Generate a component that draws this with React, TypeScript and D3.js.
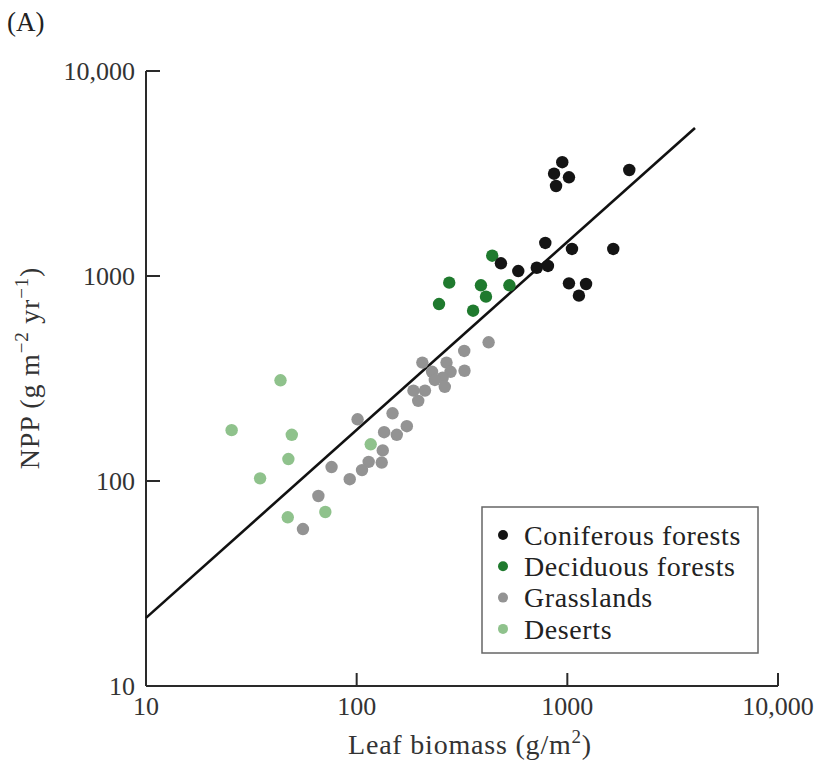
import React, { useEffect, useRef } from 'react';
import * as d3 from 'd3';

// leaf biomass (g/m2) and NPP (g m-2 yr-1)
const coniferousX = [946, 865, 1018, 884, 1968, 786, 484, 585, 716, 809, 1052, 1652, 1018, 1227, 1135];
const coniferousY = [3589, 3155, 3030, 2748, 3289, 1449, 1153, 1057, 1097, 1119, 1355, 1355, 921, 914, 802];

const deciduousX = [440, 275, 389, 531, 411, 246, 357];
const deciduousY = [1256, 928, 901, 901, 793, 730, 677];

const grasslandX = [423, 324, 205, 267, 228, 279, 325, 256, 235, 262, 186, 211, 196, 148, 101, 173, 135, 155, 133, 131.5, 114, 106, 76, 92.7, 65.8, 55.6];
const grasslandY = [475, 431, 378, 378, 341, 341, 345, 319, 311, 288, 276, 276, 246, 214, 200, 185, 173, 168, 141, 123, 124, 113, 117, 102, 84.5, 58.3];

const desertX = [43.5, 25.5, 49.2, 47.4, 116.6, 34.8, 47.1, 71];
const desertY = [310, 177, 168, 128, 151, 103, 66.5, 70.6];

const fitX = [10, 4036];
const fitY = [21.5, 5272];

const tickValues = [10, 100, 1000, 10000];
const tickLabels = ['10', '100', '1000', '10,000'];

const seriesNames = ['Coniferous forests', 'Deciduous forests', 'Grasslands', 'Deserts'];
const seriesColors = ['#141414', '#1f7a2e', '#939393', '#8fc28c'];

const FONT = '"Liberation Serif", "Times New Roman", serif';

export default function App() {
  const svgRef = useRef<SVGSVGElement>(null);
  const width = 825;
  const height = 762;

  useEffect(() => {
    if (!svgRef.current) return;
    const svg = d3.select(svgRef.current);
    svg.selectAll('*').remove();

    const x = d3.scaleLog().domain([10, 10000]).range([146, 778]);
    const y = d3.scaleLog().domain([10, 10000]).range([686, 71]);

    // panel label
    svg
      .append('text')
      .attr('x', 7)
      .attr('y', 31)
      .attr('font-family', FONT)
      .attr('font-size', 27)
      .attr('fill', '#222')
      .text('(A)');

    // axes
    const axisColor = '#2a2a2a';
    svg
      .append('line')
      .attr('x1', x(10))
      .attr('x2', x(10))
      .attr('y1', y(10000))
      .attr('y2', y(10))
      .attr('stroke', axisColor)
      .attr('stroke-width', 2);
    svg
      .append('line')
      .attr('x1', x(10))
      .attr('x2', x(10000))
      .attr('y1', y(10))
      .attr('y2', y(10))
      .attr('stroke', axisColor)
      .attr('stroke-width', 2);

    // y ticks (inward)
    tickValues.forEach((v, i) => {
      if (v > 10) {
        svg
          .append('line')
          .attr('x1', x(10))
          .attr('x2', x(10) + 14)
          .attr('y1', y(v))
          .attr('y2', y(v))
          .attr('stroke', axisColor)
          .attr('stroke-width', 2);
      }
      svg
        .append('text')
        .attr('x', 135)
        .attr('y', y(v))
        .attr('dy', '0.35em')
        .attr('text-anchor', 'end')
        .attr('font-family', FONT)
        .attr('font-size', 26)
        .attr('fill', '#333')
        .text(tickLabels[i]);
    });

    // x ticks (inward)
    tickValues.forEach((v, i) => {
      if (v > 10) {
        svg
          .append('line')
          .attr('x1', x(v))
          .attr('x2', x(v))
          .attr('y1', y(10))
          .attr('y2', y(10) - 13)
          .attr('stroke', axisColor)
          .attr('stroke-width', 2);
      }
      svg
        .append('text')
        .attr('x', x(v))
        .attr('y', 715)
        .attr('text-anchor', 'middle')
        .attr('font-family', FONT)
        .attr('font-size', 26)
        .attr('fill', '#333')
        .text(tickLabels[i]);
    });

    // axis titles
    const xTitle = svg
      .append('text')
      .attr('x', 470)
      .attr('y', 754)
      .attr('text-anchor', 'middle')
      .attr('font-family', FONT)
      .attr('font-size', 28)
      .attr('letter-spacing', 0.8)
      .attr('fill', '#333');
    xTitle.append('tspan').text('Leaf biomass (g/m');
    xTitle.append('tspan').attr('font-size', 19).attr('dy', -11).text('2');
    xTitle.append('tspan').attr('dy', 11).text(')');

    const yTitle = svg
      .append('text')
      .attr('transform', 'translate(39,368) rotate(-90)')
      .attr('text-anchor', 'middle')
      .attr('font-family', FONT)
      .attr('font-size', 28)
      .attr('letter-spacing', 0.8)
      .attr('fill', '#333');
    yTitle.append('tspan').text('NPP (g m');
    yTitle.append('tspan').attr('font-size', 19).attr('dy', -11).text('\u22122');
    yTitle.append('tspan').attr('dy', 11).text('  yr');
    yTitle.append('tspan').attr('font-size', 19).attr('dy', -11).text('\u22121');
    yTitle.append('tspan').attr('dy', 11).text(')');

    // regression line
    const line = d3
      .line<number>()
      .x((d) => x(fitX[d]))
      .y((d) => y(fitY[d]));
    svg
      .append('path')
      .datum([0, 1])
      .attr('d', line)
      .attr('fill', 'none')
      .attr('stroke', '#111')
      .attr('stroke-width', 2.6);

    // points
    const groups = [
      [coniferousX, coniferousY],
      [deciduousX, deciduousY],
      [grasslandX, grasslandY],
      [desertX, desertY],
    ];
    // draw grasslands and deserts first, forests on top
    [2, 3, 1, 0].forEach((gi) => {
      const [xs, ys] = groups[gi];
      svg
        .append('g')
        .selectAll('circle')
        .data(xs.map((v, i) => [v, ys[i]]))
        .join('circle')
        .attr('cx', (d) => x(d[0]))
        .attr('cy', (d) => y(d[1]))
        .attr('r', 6.2)
        .attr('fill', seriesColors[gi]);
    });

    // legend
    const legend = svg.append('g');
    legend
      .append('rect')
      .attr('x', 482)
      .attr('y', 507)
      .attr('width', 276)
      .attr('height', 146)
      .attr('fill', '#fff')
      .attr('stroke', '#666')
      .attr('stroke-width', 1.5);
    seriesNames.forEach((name, i) => {
      const cy = 535 + i * 31.3;
      legend
        .append('circle')
        .attr('cx', 503)
        .attr('cy', cy)
        .attr('r', 5)
        .attr('fill', seriesColors[i]);
      legend
        .append('text')
        .attr('x', 524)
        .attr('y', cy)
        .attr('dy', '0.35em')
        .attr('font-family', FONT)
        .attr('font-size', 28)
        .attr('letter-spacing', 0.6)
        .attr('fill', '#222')
        .text(name);
    });
  }, []);

  return (
    <svg
      ref={svgRef}
      width={width}
      height={height}
      style={{ position: 'absolute', left: 0, top: 0, background: '#fff' }}
    ></svg>
  );
}
